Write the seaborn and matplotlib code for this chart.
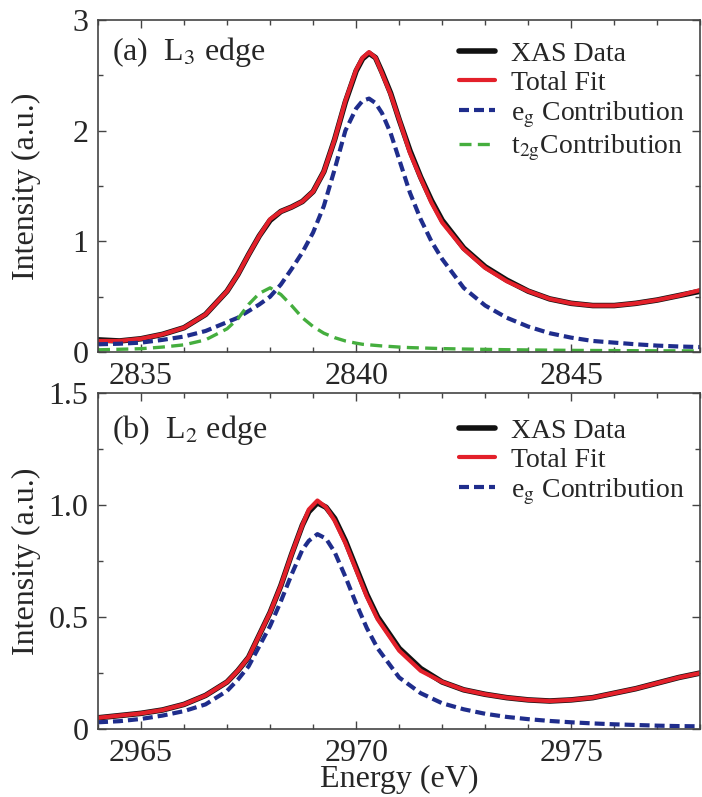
import numpy as np
import pandas as pd
import matplotlib
matplotlib.use("Agg")
import matplotlib.pyplot as plt
import seaborn as sns

# ---------------- data ----------------
l3_energy = [2834, 2834.5, 2835, 2835.5, 2836, 2836.5, 2837, 2837.25, 2837.5, 2837.75,
             2838, 2838.25, 2838.5, 2838.75, 2839, 2839.25, 2839.5, 2839.75, 2840, 2840.15,
             2840.3, 2840.45, 2840.6, 2840.8, 2841, 2841.25, 2841.5, 2841.75, 2842, 2842.5,
             2843, 2843.5, 2844, 2844.5, 2845, 2845.5, 2846, 2846.5, 2847, 2847.5, 2848]
l3_xas = [0.11, 0.10, 0.12, 0.16, 0.22, 0.34, 0.55, 0.70, 0.88, 1.05,
          1.19, 1.27, 1.31, 1.36, 1.45, 1.63, 1.92, 2.26, 2.54, 2.65,
          2.70, 2.66, 2.53, 2.34, 2.10, 1.82, 1.58, 1.37, 1.19, 0.94,
          0.77, 0.65, 0.55, 0.48, 0.44, 0.42, 0.42, 0.44, 0.47, 0.51, 0.55]
l3_fit = [0.10, 0.10, 0.12, 0.16, 0.22, 0.34, 0.55, 0.70, 0.88, 1.05,
          1.20, 1.27, 1.31, 1.36, 1.45, 1.63, 1.92, 2.27, 2.55, 2.66,
          2.71, 2.66, 2.52, 2.33, 2.10, 1.80, 1.57, 1.35, 1.17, 0.93,
          0.76, 0.64, 0.55, 0.48, 0.44, 0.42, 0.42, 0.44, 0.47, 0.51, 0.56]
l3_eg = [0.07, 0.075, 0.085, 0.11, 0.14, 0.19, 0.27, 0.31, 0.37, 0.43,
         0.50, 0.61, 0.75, 0.90, 1.08, 1.32, 1.65, 2.00, 2.20, 2.27,
         2.29, 2.25, 2.16, 1.98, 1.74, 1.44, 1.20, 1.00, 0.84, 0.58,
         0.42, 0.31, 0.23, 0.17, 0.13, 0.10, 0.085, 0.07, 0.058, 0.05, 0.045]
l3_t2g = [0.02, 0.025, 0.03, 0.045, 0.065, 0.11, 0.21, 0.30, 0.43, 0.53,
          0.58, 0.52, 0.42, 0.31, 0.23, 0.17, 0.13, 0.10, 0.08, 0.07,
          0.065, 0.06, 0.055, 0.05, 0.045, 0.04, 0.037, 0.034, 0.031, 0.027,
          0.024, 0.021, 0.019, 0.017, 0.015, 0.014, 0.013, 0.012, 0.011, 0.011, 0.01]

l2_energy = [2964, 2964.5, 2965, 2965.5, 2966, 2966.5, 2967, 2967.25, 2967.5, 2967.75,
             2968, 2968.25, 2968.5, 2968.75, 2968.9, 2969.1, 2969.3, 2969.5, 2969.75, 2970,
             2970.25, 2970.5, 2971, 2971.5, 2972, 2972.5, 2973, 2973.5, 2974, 2974.5,
             2975, 2975.5, 2976, 2976.5, 2977, 2977.5, 2978]
l2_xas = [0.05, 0.06, 0.07, 0.085, 0.11, 0.15, 0.21, 0.26, 0.32, 0.42,
          0.52, 0.64, 0.78, 0.91, 0.97, 1.01, 0.99, 0.94, 0.84, 0.72,
          0.60, 0.50, 0.36, 0.27, 0.21, 0.175, 0.155, 0.14, 0.13, 0.125,
          0.13, 0.14, 0.16, 0.18, 0.205, 0.23, 0.25]
l2_fit = [0.05, 0.06, 0.07, 0.085, 0.11, 0.15, 0.21, 0.26, 0.32, 0.42,
          0.52, 0.64, 0.78, 0.91, 0.98, 1.02, 0.99, 0.93, 0.83, 0.71,
          0.59, 0.49, 0.35, 0.26, 0.21, 0.175, 0.155, 0.14, 0.13, 0.125,
          0.13, 0.14, 0.16, 0.18, 0.205, 0.23, 0.25]
l2_eg = [0.03, 0.035, 0.045, 0.06, 0.08, 0.11, 0.17, 0.22, 0.28, 0.37,
         0.46, 0.57, 0.69, 0.80, 0.84, 0.87, 0.85, 0.79, 0.68, 0.56,
         0.45, 0.36, 0.23, 0.16, 0.115, 0.088, 0.068, 0.054, 0.044, 0.036,
         0.03, 0.025, 0.021, 0.018, 0.015, 0.013, 0.012]

top_yticks = [0, 1, 2, 3]
top_yticklabels = ["0", "1", "2", "3"]
bot_yticks = [0, 0.5, 1.0, 1.5]
bot_yticklabels = ["0", "0.5", "1.0", "1.5"]
top_xticks = [2835, 2840, 2845]
bot_xticks = [2965, 2970, 2975]

# ---------------- style ----------------
sns.set_style("ticks")
plt.rcParams["font.family"] = ["Liberation Serif", "DejaVu Serif"]
plt.rcParams["mathtext.fontset"] = "stix"
FS = 23
FS_LEG = 20

C_BLACK = "#111111"
C_RED = "#e3202a"
C_BLUE = "#1f2d8c"
C_GREEN = "#45ae3e"

fig = plt.figure(figsize=(7.02, 7.97), dpi=100)
ax1 = fig.add_axes([0.1396, 0.5583, 0.858, 0.4166])
ax2 = fig.add_axes([0.1396, 0.0853, 0.858, 0.4216])

top = pd.DataFrame({"E": l3_energy, "xas": l3_xas, "fit": l3_fit, "eg": l3_eg, "t2g": l3_t2g})
bot = pd.DataFrame({"E": l2_energy, "xas": l2_xas, "fit": l2_fit, "eg": l2_eg})

def draw(ax, df, with_t2g):
    sns.lineplot(data=df, x="E", y="xas", ax=ax, color=C_BLACK, lw=4.0, label="XAS Data")
    sns.lineplot(data=df, x="E", y="fit", ax=ax, color=C_RED, lw=3.0, label="Total Fit")
    sns.lineplot(data=df, x="E", y="eg", ax=ax, color=C_BLUE, lw=3.0,
                 linestyle=(0, (2.4, 1.2)), label=r"e$_{\rm g}$ Contribution")
    if with_t2g:
        sns.lineplot(data=df, x="E", y="t2g", ax=ax, color=C_GREEN, lw=2.4,
                     linestyle=(0, (3.6, 1.9)), label=r"t$_{\rm 2g}$Contribution")

draw(ax1, top, True)
draw(ax2, bot, False)

for ax, xl, xt, yt, ytl, ylim, legy in [
        (ax1, (2834, 2848), top_xticks, top_yticks, top_yticklabels, (0, 3), 0.943),
        (ax2, (2964, 2978), bot_xticks, bot_yticks, bot_yticklabels, (0, 1.5), 0.932)]:
    ax.set_xlim(*xl)
    ax.set_ylim(*ylim)
    ax.set_xticks(xt)
    ax.set_xticks(np.arange(xl[0], xl[1] + 0.1, 1), minor=True)
    ax.set_yticks(yt)
    ax.set_yticklabels(ytl)
    ax.set_yticks(np.arange(ylim[0], ylim[1] + 1e-6, yt[1] / 2), minor=True)
    ax.tick_params(which="both", direction="in", top=True, right=True,
                   labelsize=FS, color="#444444", width=1.0)
    ax.tick_params(axis="y", pad=7)
    ax.tick_params(axis="x", pad=7)
    ax.tick_params(which="major", length=6)
    ax.tick_params(which="minor", length=3.5)
    for s in ax.spines.values():
        s.set_color("#444444")
        s.set_linewidth(1.2)
    ax.set_ylabel("Intensity (a.u.)", fontsize=FS)
    ax.yaxis.set_label_coords(-0.095, 0.5)
    ax.set_xlabel("")
    ax.legend(loc="upper left", bbox_to_anchor=(0.594, legy), frameon=False,
              fontsize=FS_LEG, handlelength=1.3, handletextpad=0.6,
              labelspacing=0.12, borderaxespad=0.0, borderpad=0.1)

ax1.text(0.023, 0.905, r"(a)  L$_3$ edge", transform=ax1.transAxes,
         fontsize=FS, va="center", ha="left")
ax2.text(0.023, 0.89, r"(b)  L$_2$ edge", transform=ax2.transAxes,
         fontsize=FS, va="center", ha="left")

ax2.set_xlabel("Energy (eV)", fontsize=FS)
ax2.xaxis.set_label_coords(0.5, -0.108)

fig.savefig("out.png", dpi=100)
